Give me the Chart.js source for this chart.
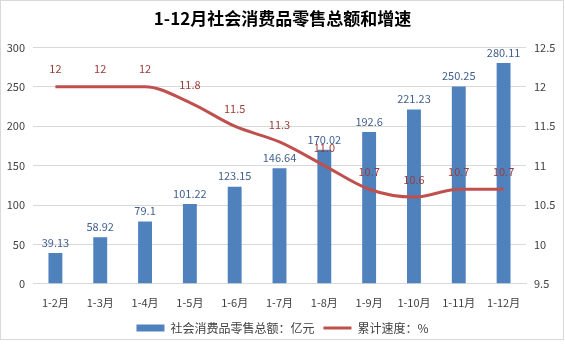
<!DOCTYPE html>
<html>
<head>
<meta charset="utf-8">
<script src="https://cdn.jsdelivr.net/npm/chart.js@4.4.1/dist/chart.umd.min.js"></script>
<style>
    html, body { margin: 0; padding: 0; background: #fff; }
    #frame { position: absolute; left: 0; top: 0; width: 562px; height: 338px; border: 1px solid #d9d9d9; }
    #wrap { position: absolute; left: 0; top: 0; width: 565px; height: 351px; }
</style>
</head>
<body>
<div id="frame"></div>
<div id="wrap"><canvas id="chart" width="565" height="351"></canvas></div>
<script>
// 1-12月社会消费品零售总额和增速
const months = ['1-2月', '1-3月', '1-4月', '1-5月', '1-6月', '1-7月', '1-8月', '1-9月', '1-10月', '1-11月', '1-12月'];
const retailTotals = [39.13, 58.92, 79.1, 101.22, 123.15, 146.64, 170.02, 192.6, 221.23, 250.25, 280.11];
const growthRates = [12, 12, 12, 11.8, 11.5, 11.3, 11.0, 10.7, 10.6, 10.7, 10.7];
const growthLabels = ['12', '12', '12', '11.8', '11.5', '11.3', '11.0', '10.7', '10.6', '10.7', '10.7'];
const leftTicks = [0, 50, 100, 150, 200, 250, 300];
const rightTicks = [9.5, 10, 10.5, 11, 11.5, 12, 12.5];

const FONT = '"Noto Sans CJK SC", "Noto Sans", sans-serif';

const valueLabels = {
    id: 'valueLabels',
    afterDatasetsDraw(chart) {
        const ctx = chart.ctx;
        ctx.save();
        ctx.font = '11px ' + FONT;
        ctx.textAlign = 'center';
        ctx.textBaseline = 'bottom';
        chart.getDatasetMeta(0).data.forEach((bar, i) => {
            ctx.fillStyle = '#3f5f8f';
            ctx.fillText(String(retailTotals[i]), bar.x, bar.y - 5);
        });
        chart.getDatasetMeta(1).data.forEach((pt, i) => {
            ctx.fillStyle = '#9b3b38';
            ctx.fillText(growthLabels[i], pt.x, pt.y - 12);
        });
        ctx.restore();
    }
};

function ready(fn) {
    if (document.readyState !== 'loading') fn();
    else document.addEventListener('DOMContentLoaded', fn);
}

ready(() => {
    const ctx = document.getElementById('chart').getContext('2d');
    new Chart(ctx, {
        data: {
            labels: months,
            datasets: [
                {
                    type: 'bar',
                    label: '社会消费品零售总额：亿元',
                    data: retailTotals,
                    backgroundColor: '#4f81bd',
                    barPercentage: 0.62,
                    categoryPercentage: 0.5,
                    yAxisID: 'y',
                    order: 2
                },
                {
                    type: 'line',
                    label: '累计速度：%',
                    data: growthRates,
                    borderColor: '#c0504d',
                    backgroundColor: '#c0504d',
                    borderWidth: 3,
                    pointRadius: 0,
                    tension: 0.3,
                    cubicInterpolationMode: 'monotone',
                    yAxisID: 'y1',
                    order: 1
                }
            ]
        },
        options: {
            responsive: false,
            animation: false,
            layout: { padding: { left: 0, right: 0, top: 0, bottom: 7 } },
            plugins: {
                title: {
                    display: true,
                    text: '1-12月社会消费品零售总额和增速',
                    color: '#000',
                    font: { family: FONT, size: 17, weight: 'bold' },
                    padding: { top: 8, bottom: 19 }
                },
                legend: {
                    position: 'bottom',
                    labels: {
                        color: '#404040',
                        font: { family: FONT, size: 12 },
                        usePointStyle: true,
                        boxHeight: 7,
                        pointStyleWidth: 28,
                        padding: 9,
                        generateLabels(chart) {
                            return chart.data.datasets.map((ds, i) => ({
                                text: ds.label,
                                fillStyle: ds.backgroundColor,
                                strokeStyle: ds.type === 'line' ? ds.borderColor : ds.backgroundColor,
                                lineWidth: ds.type === 'line' ? 3 : 0,
                                pointStyle: ds.type === 'line' ? 'line' : 'rect',
                                datasetIndex: i,
                                fontColor: '#404040'
                            }));
                        }
                    }
                },
                tooltip: { enabled: false }
            },
            scales: {
                x: {
                    grid: { display: false },
                    border: { color: '#d9d9d9' },
                    ticks: { color: '#404040', font: { family: FONT, size: 11 }, maxRotation: 0, padding: 4 }
                },
                y: {
                    position: 'left',
                    min: 0,
                    max: 300,
                    afterBuildTicks(scale) { scale.ticks = leftTicks.map(v => ({ value: v })); },
                    afterFit(scale) { scale.width = 33; },
                    grid: { color: '#d9d9d9', drawTicks: false },
                    border: { display: false },
                    ticks: { color: '#404040', font: { family: FONT, size: 11 }, padding: 8 }
                },
                y1: {
                    position: 'right',
                    min: 9.5,
                    max: 12.5,
                    afterBuildTicks(scale) { scale.ticks = rightTicks.map(v => ({ value: v })); },
                    afterFit(scale) { scale.width = 39; },
                    grid: { display: false, drawTicks: false },
                    border: { display: false },
                    ticks: {
                        color: '#404040',
                        font: { family: FONT, size: 11 },
                        padding: 8,
                        callback: value => String(value)
                    }
                }
            }
        },
        plugins: [valueLabels]
    });
});
</script>
</body>
</html>
